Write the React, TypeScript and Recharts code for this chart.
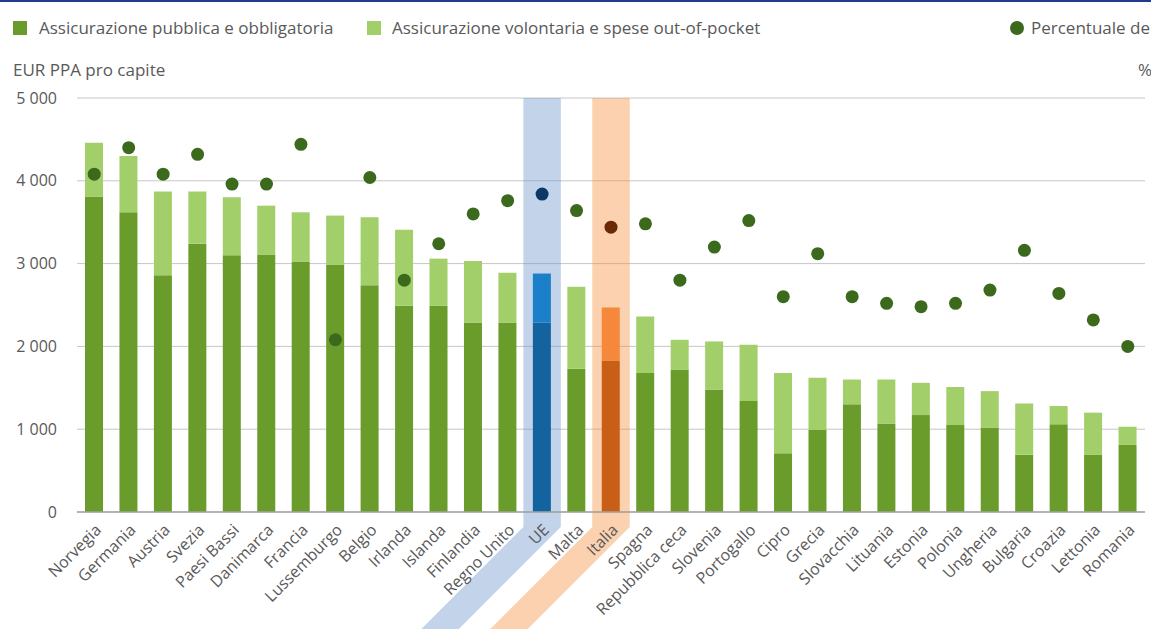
import {
  Bar,
  CartesianGrid,
  Cell,
  ComposedChart,
  Line,
  ReferenceArea,
  XAxis,
  YAxis,
} from "recharts";

const countries = [
  "Norvegia", "Germania", "Austria", "Svezia", "Paesi Bassi", "Danimarca", "Francia",
  "Lussemburgo", "Belgio", "Irlanda", "Islanda", "Finlandia", "Regno Unito", "UE", "Malta",
  "Italia", "Spagna", "Repubblica ceca", "Slovenia", "Portogallo", "Cipro", "Grecia",
  "Slovacchia", "Lituania", "Estonia", "Polonia", "Ungheria", "Bulgaria", "Croazia",
  "Lettonia", "Romania",
];

// EUR PPA pro capite
const pubblica = [
  3810, 3620, 2860, 3240, 3100, 3110, 3020, 2990, 2740, 2490, 2490, 2290, 2290, 2290, 1730,
  1830, 1680, 1720, 1480, 1340, 710, 990, 1300, 1070, 1170, 1050, 1020, 690, 1060, 690, 810,
];
const volontaria = [
  650, 680, 1010, 630, 700, 590, 600, 590, 820, 920, 570, 740, 600, 590, 990,
  640, 680, 360, 580, 680, 970, 630, 300, 530, 390, 460, 440, 620, 220, 510, 220,
];
// % (asse destro)
const percentuale = [
  10.2, 11.0, 10.2, 10.8, 9.9, 9.9, 11.1, 5.2, 10.1, 7.0, 8.1, 9.0, 9.4, 9.6, 9.1,
  8.6, 8.7, 7.0, 8.0, 8.8, 6.5, 7.8, 6.5, 6.3, 6.2, 6.3, 6.7, 7.9, 6.6, 5.8, 5.0,
];

const yTicks = [0, 1000, 2000, 3000, 4000, 5000];

const FONT = '"Open Sans", sans-serif';
const TEXT = "#595959";
const DARK = "#6a9c2c";
const LIGHT = "#a3cf6a";
const DOT = "#3b6a1c";

const highlight: Record<string, { dark: string; light: string; dot: string; band: string }> = {
  UE: { dark: "#12639e", light: "#1b80c9", dot: "#0d3866", band: "rgb(105,145,200)" },
  Italia: { dark: "#c95f17", light: "#f5883b", dot: "#6a2a06", band: "rgb(245,140,55)" },
};

const data = countries.map((c, i) => ({
  name: c,
  pubblica: pubblica[i],
  volontaria: volontaria[i],
  pct: percentuale[i],
}));

function fmtTick(v: number) {
  return v >= 1000 ? `${Math.floor(v / 1000)} ${String(v % 1000).padStart(3, "0")}` : String(v);
}

function CountryTick(props: any) {
  const { x, y, payload } = props;
  const ax = x + 8;
  const ay = y + 11;
  return (
    <text
      x={ax}
      y={ay}
      transform={`rotate(-45, ${ax}, ${ay})`}
      textAnchor="end"
      fill={TEXT}
      fontSize={16}
      fontFamily={FONT}
    >
      {payload.value}
    </text>
  );
}

// vertical band over the column that bends down-left under the label
function bandShape(fill: string) {
  return (props: any) => {
    const { x, y, width, height } = props;
    const l = x - 1.5;
    const r = x + width + 1.5;
    const b = y + height + 15;
    const run = 160;
    const d = `M${l},${y} H${r} V${b} L${r - run},${b + run} H${l - run} L${l},${b} Z`;
    return <path d={d} fill={fill} fillOpacity={0.4} stroke="none" />;
  };
}

function renderDot(props: any) {
  const { cx, cy, payload, index } = props;
  const h = highlight[payload.name];
  return <circle key={`dot-${index}`} cx={cx} cy={cy} r={6.5} fill={h ? h.dot : DOT} />;
}

const label = { position: "absolute" as const, fontSize: 17, whiteSpace: "nowrap" as const };

export default function App() {
  return (
    <div
      style={{
        position: "absolute",
        left: 0,
        top: 0,
        width: 1151,
        height: 629,
        overflow: "hidden",
        background: "#fff",
        borderTop: "2px solid #1f3b8e",
        boxSizing: "border-box",
        fontFamily: FONT,
        color: TEXT,
      }}
    >
      {/* legend */}
      <div style={{ position: "absolute", left: 13, top: 19, width: 14, height: 14, background: DARK }} />
      <div style={{ ...label, left: 39, top: 14 }}>Assicurazione pubblica e obbligatoria</div>
      <div style={{ position: "absolute", left: 367, top: 19, width: 14, height: 14, background: LIGHT }} />
      <div style={{ ...label, left: 392, top: 14 }}>Assicurazione volontaria e spese out-of-pocket</div>
      <div
        style={{
          position: "absolute",
          left: 1010,
          top: 19,
          width: 14,
          height: 14,
          borderRadius: 7,
          background: DOT,
        }}
      />
      <div style={{ ...label, left: 1031, top: 14 }}>Percentuale del PIL</div>
      <div style={{ ...label, left: 13, top: 56 }}>EUR PPA pro capite</div>
      <div style={{ ...label, left: 1138, top: 56 }}>%</div>

      <div style={{ position: "absolute", left: 0, top: -2 }}>
        <ComposedChart
          width={1151}
          height={629}
          data={data}
          margin={{ top: 98, right: 6, left: 17, bottom: 0 }}
          barCategoryGap={0}
        >
          {Object.keys(highlight).map((k) => (
            <ReferenceArea
              key={k}
              yAxisId="left"
              x1={k}
              x2={k}
              ifOverflow="visible"
              shape={bandShape(highlight[k].band)}
            />
          ))}
          <CartesianGrid yAxisId="left" vertical={false} stroke="#c6c6c6" />
          <XAxis
            dataKey="name"
            interval={0}
            height={117}
            tick={<CountryTick />}
            tickLine={false}
            axisLine={{ stroke: "#a3a3a3", strokeWidth: 1.5 }}
          />
          <YAxis
            yAxisId="left"
            domain={[0, 5000]}
            ticks={yTicks}
            tickFormatter={fmtTick}
            width={60}
            tickSize={0}
            tickMargin={20}
            axisLine={false}
            tickLine={false}
            tick={{ fontSize: 16, fill: TEXT, fontFamily: FONT }}
          />
          <YAxis yAxisId="right" orientation="right" domain={[0, 12.5]} hide />
          <Bar yAxisId="left" dataKey="pubblica" stackId="a" barSize={18} isAnimationActive={false}>
            {data.map((d) => (
              <Cell key={d.name} fill={highlight[d.name] ? highlight[d.name].dark : DARK} />
            ))}
          </Bar>
          <Bar yAxisId="left" dataKey="volontaria" stackId="a" barSize={18} isAnimationActive={false}>
            {data.map((d) => (
              <Cell key={d.name} fill={highlight[d.name] ? highlight[d.name].light : LIGHT} />
            ))}
          </Bar>
          <Line
            yAxisId="right"
            dataKey="pct"
            stroke="none"
            dot={renderDot}
            activeDot={false}
            isAnimationActive={false}
          />
        </ComposedChart>
      </div>
    </div>
  );
}
